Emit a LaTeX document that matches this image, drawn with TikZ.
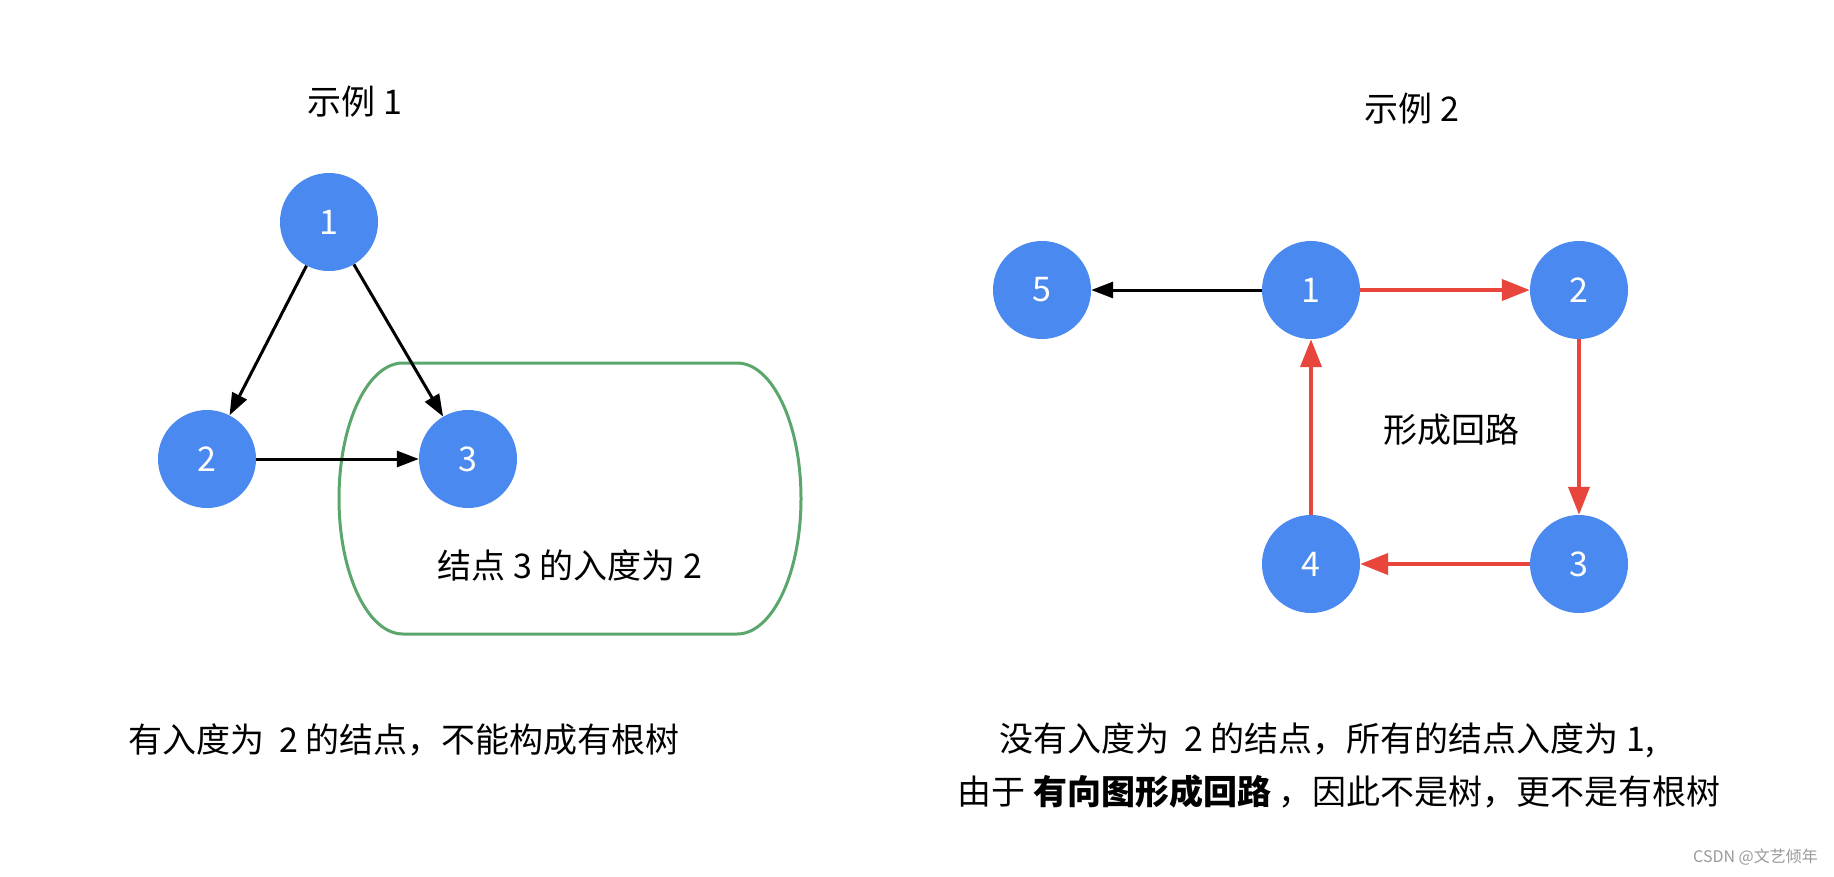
\documentclass[tikz,border=0pt]{standalone}
\usepackage{fontspec}
\setmainfont{Noto Sans CJK SC}
\usetikzlibrary{arrows.meta}
\definecolor{nodeblue}{HTML}{4A89EF}
\definecolor{loopred}{HTML}{E8453C}
\definecolor{boxgreen}{HTML}{5BA66D}
\definecolor{markgray}{HTML}{9A9A9A}
\begin{document}
\begin{tikzpicture}[x=1pt,y=-1pt,
  vert/.style={circle,fill=nodeblue,minimum size=98pt,inner sep=0pt,text=white,font=\fontsize{34pt}{40pt}\selectfont},
  lbl/.style={font=\fontsize{34pt}{40pt}\selectfont,inner sep=0pt},
  blackedge/.style={line width=3pt,-{Triangle[length=22pt,width=16pt]}},
  rededge/.style={line width=4pt,draw=loopred,-{Triangle[length=28pt,width=21pt]}},
  markstyle/.style={font=\fontsize{16pt}{18pt}\selectfont,text=markgray,anchor=east,inner sep=0pt}
]
\useasboundingbox[fill=white] (0,0) rectangle (1834,876);

% green box
\draw[boxgreen,line width=3pt] (403,363) -- (737,363)
  arc[start angle=90,end angle=-90,x radius=64pt,y radius=135.5pt]
  -- (403,634)
  arc[start angle=270,end angle=90,x radius=64pt,y radius=135.5pt] -- cycle;

% example 1
\node[vert] (a1) at (329,222) {1};
\node[vert] (a2) at (207,459) {2};
\node[vert] (a3) at (468,459) {3};
\draw[blackedge] (a1) -- (a2);
\draw[blackedge] (a1) -- (a3);
\draw[blackedge] (a2) -- (a3);

% example 2
\node[vert] (b5) at (1042,290) {5};
\node[vert] (b1) at (1311,290) {1};
\node[vert] (b2) at (1579,290) {2};
\node[vert] (b3) at (1579,564) {3};
\node[vert] (b4) at (1311,564) {4};
\draw[blackedge] (b1) -- (b5);
\draw[rededge] (b1) -- (b2);
\draw[rededge] (b2) -- (b3);
\draw[rededge] (b3) -- (b4);
\draw[rededge] (b4) -- (b1);

% texts
\node[lbl] (t1) at (355,102) {示例 1};
\node[lbl] (t2) at (1412,109) {示例 2};
\node[lbl] (in3) at (570,565) {结点 3 的入度为 2};
\node[lbl] (loop) at (1451,430) {形成回路};
\node[lbl] (c1) at (404,740) {有入度为~ 2 的结点，不能构成有根树};
\node[lbl] (c2a) at (1327,740) {没有入度为~ 2 的结点，所有的结点入度为 1,};
\node[lbl] (c2b) at (1339,792) {由于 \textbf{有向图形成回路} ，因此不是树，更不是有根树};
\node[markstyle] (wm) at (1818,857) {CSDN @文艺倾年};
\end{tikzpicture}
\end{document}
